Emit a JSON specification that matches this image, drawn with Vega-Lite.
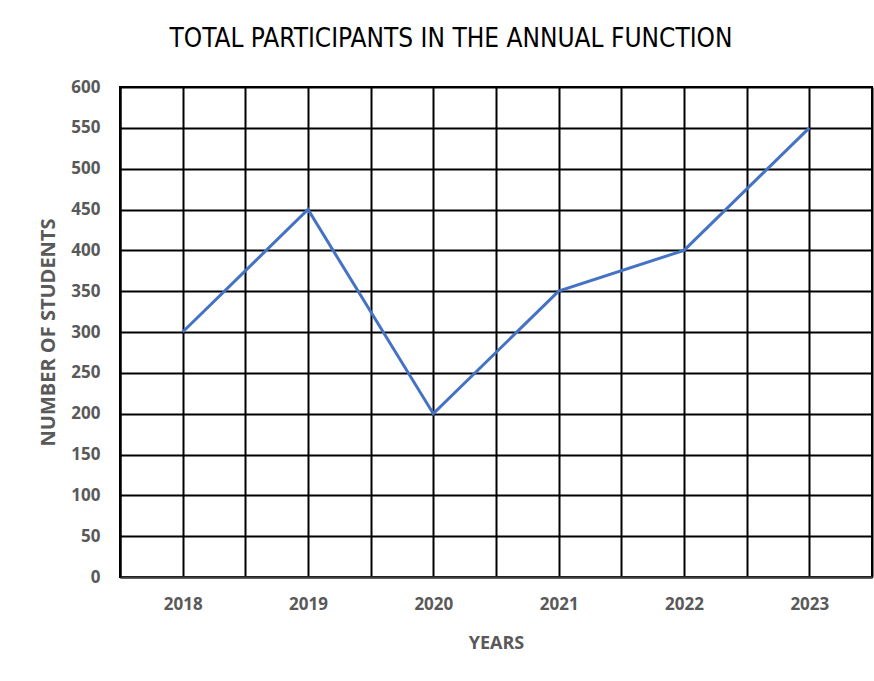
{
  "$schema": "https://vega.github.io/schema/vega-lite/v6.json",
  "autosize": "none",
  "width": 752,
  "height": 490,
  "padding": {"left": 120, "top": 87, "right": 2, "bottom": 104},
  "background": "white",
  "title": {
    "text": "TOTAL PARTICIPANTS IN THE ANNUAL FUNCTION",
    "font": "DejaVu Sans Condensed",
    "fontSize": 26,
    "fontWeight": "normal",
    "color": "#000000",
    "anchor": "middle",
    "dx": -45,
    "baseline": "alphabetic",
    "offset": 5
  },
  "data": {
    "values": [
      {"year": 2018, "students": 300},
      {"year": 2019, "students": 450},
      {"year": 2020, "students": 200},
      {"year": 2021, "students": 350},
      {"year": 2022, "students": 400},
      {"year": 2023, "students": 550}
    ]
  },
  "mark": {"type": "line", "color": "#4472C4", "strokeWidth": 3},
  "encoding": {
    "x": {
      "field": "year",
      "type": "quantitative",
      "scale": {"domain": [2017.5, 2023.5], "nice": false, "zero": false},
      "axis": {
        "title": "YEARS",
        "values": [2017.5, 2018, 2018.5, 2019, 2019.5, 2020, 2020.5, 2021, 2021.5, 2022, 2022.5, 2023, 2023.5],
        "labelExpr": "datum.value % 1 === 0 ? '' + datum.value : ''",
        "grid": true,
        "gridColor": "#000000",
        "gridWidth": 2,
        "gridOpacity": 1,
        "ticks": false,
        "domain": true,
        "domainColor": "#404040",
        "domainWidth": 2,
        "labelFont": "Open Sans",
        "labelFontSize": 17,
        "labelFontWeight": "bold",
        "labelColor": "#595959",
        "labelPadding": 19,
        "labelOverlap": false,
        "titleFont": "Open Sans",
        "titleFontSize": 18,
        "titleFontWeight": "bold",
        "titleColor": "#595959",
        "titlePadding": 22
      }
    },
    "y": {
      "field": "students",
      "type": "quantitative",
      "scale": {"domain": [0, 600], "nice": false},
      "axis": {
        "title": "NUMBER OF STUDENTS",
        "values": [0, 50, 100, 150, 200, 250, 300, 350, 400, 450, 500, 550, 600],
        "grid": true,
        "gridColor": "#000000",
        "gridWidth": 2,
        "gridOpacity": 1,
        "ticks": false,
        "domain": true,
        "domainColor": "#000000",
        "domainWidth": 2,
        "labelFont": "Open Sans",
        "labelFontSize": 17,
        "labelFontWeight": "bold",
        "labelColor": "#595959",
        "labelPadding": 20,
        "titleFont": "Open Sans",
        "titleFontSize": 20,
        "titleFontWeight": "bold",
        "titleColor": "#595959",
        "titlePadding": 12
      }
    }
  },
  "config": {
    "view": {"stroke": "#000000", "strokeWidth": 2}
  }
}
